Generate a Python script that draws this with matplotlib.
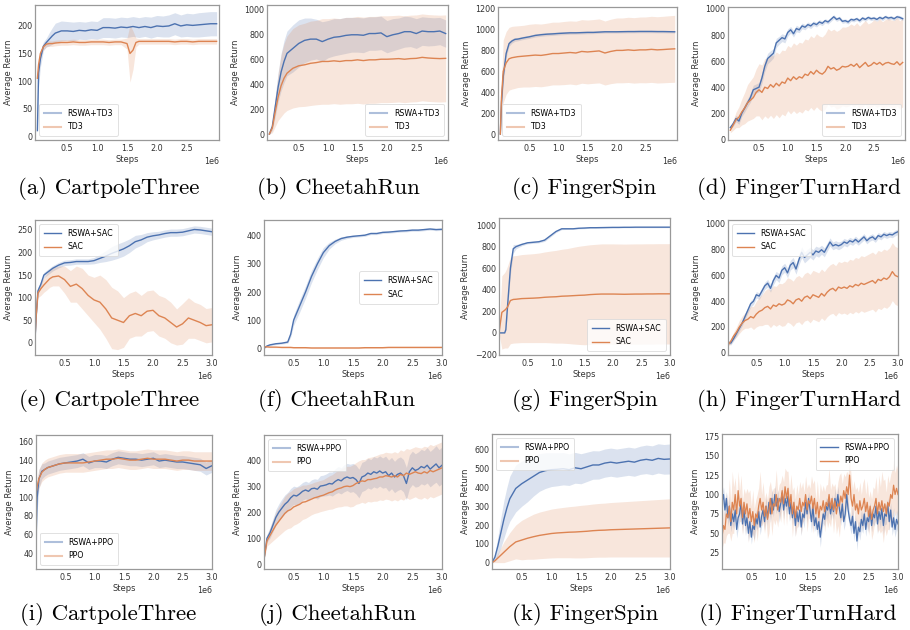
import matplotlib
matplotlib.use("Agg")
import matplotlib.pyplot as plt
import numpy as np

BLUE = "#4c72b0"
ORANGE = "#dd8452"

# steps are in millions, scaled to 1e6 when plotted
STEPS = [0, 0.02, 0.05, 0.1, 0.15, 0.2, 0.25, 0.3, 0.4, 0.5, 0.6, 0.7, 0.8, 0.9,
         1.0, 1.1, 1.2, 1.3, 1.4, 1.5, 1.6, 1.7, 1.8, 1.9, 2.0, 2.1, 2.2, 2.3,
         2.4, 2.5, 2.6, 2.7, 2.8, 2.9, 3.0]
STEPS_FINE = [round(0.05 * i, 2) for i in range(61)]
STEPS_DENSE = [round(0.025 * i, 3) for i in range(121)]

# (a) CartpoleThree, TD3
a_x = [0, 0.02, 0.05, 0.1, 0.15, 0.2, 0.25, 0.3, 0.4, 0.5, 0.6, 0.7, 0.8, 0.9,
       1.0, 1.1, 1.2, 1.3, 1.4, 1.5, 1.55, 1.6, 1.65, 1.7, 1.8, 1.9, 2.0, 2.1,
       2.2, 2.3, 2.4, 2.5, 2.6, 2.7, 2.8, 2.9, 3.0]
a_rswa = [10, 115, 140, 163, 170, 176, 182, 187, 191, 191, 190, 192, 191, 193,
          192, 197, 197, 196, 198, 197, 198, 199, 198, 197, 199, 197, 200, 199,
          200, 204, 200, 202, 201, 202, 203, 204, 204]
a_rswa_sd = [5, 25, 15, 8, 8, 12, 15, 18, 18, 17, 17, 16, 16, 16, 16, 18, 18, 18,
             18, 18, 18, 18, 18, 18, 18, 19, 19, 19, 20, 20, 20, 21, 21, 22, 22, 22, 22]
a_base = [105, 130, 150, 162, 167, 168, 168, 169, 170, 170, 171, 170, 170, 171,
          171, 171, 170, 171, 171, 168, 150, 156, 170, 172, 172, 172, 172, 172,
          172, 171, 172, 172, 171, 172, 172, 172, 172]
a_base_sd = [5, 8, 6, 5, 5, 5, 5, 5, 5, 5, 5, 5, 5, 5, 5, 5, 5, 5, 5, 10, 52, 35,
             8, 5, 5, 5, 5, 5, 5, 5, 5, 5, 5, 5, 5, 5, 5]

# (b) CheetahRun, TD3
b_rswa = [0, 25, 60, 220, 380, 500, 585, 650, 690, 730, 755, 765, 765, 745, 765,
          780, 785, 795, 800, 800, 796, 810, 810, 815, 785, 800, 810, 825, 825,
          810, 830, 825, 825, 830, 810]
b_rswa_sd = [5, 15, 30, 80, 120, 150, 170, 180, 190, 190, 180, 170, 160, 160, 150,
             150, 145, 145, 140, 140, 140, 135, 135, 135, 130, 130, 125, 125, 120,
             120, 115, 115, 112, 110, 110]
b_base = [0, 20, 50, 180, 300, 390, 450, 490, 530, 550, 558, 570, 576, 585, 585,
          590, 585, 592, 592, 598, 592, 598, 598, 603, 603, 605, 608, 603, 608,
          610, 618, 613, 610, 608, 610]
b_base_sd = [5, 15, 40, 120, 190, 250, 280, 300, 320, 330, 335, 340, 340, 345, 345,
             345, 345, 348, 348, 350, 350, 350, 350, 350, 350, 350, 350, 350, 350,
             350, 350, 350, 350, 350, 350]

# (c) FingerSpin, TD3
c_rswa = [0, 300, 550, 770, 865, 890, 905, 908, 920, 930, 943, 950, 955, 958, 962,
          965, 968, 968, 970, 972, 972, 975, 978, 978, 978, 979, 980, 980, 981,
          981, 981, 980, 980, 979, 978]
c_rswa_sd = [5, 60, 60, 40, 25, 20, 18, 16, 15, 15, 15, 15, 15, 15, 14, 14, 14, 13,
             13, 13, 12, 12, 12, 12, 12, 12, 12, 12, 12, 12, 12, 12, 12, 12, 12]
c_base = [0, 350, 600, 680, 720, 730, 735, 740, 745, 750, 755, 752, 760, 770, 770,
          775, 780, 775, 790, 785, 790, 795, 775, 790, 800, 800, 805, 800, 805,
          805, 810, 805, 808, 812, 815]
c_base_sd = [5, 150, 300, 300, 300, 300, 298, 295, 295, 300, 300, 300, 300, 300,
             300, 302, 302, 304, 304, 305, 305, 306, 306, 308, 310, 310, 312, 313,
             314, 315, 316, 317, 318, 319, 320]

# (d) FingerTurnHard, TD3
d_rswa = [90, 120, 160, 140, 200, 240, 280, 320, 380, 390, 400, 470, 560, 620, 640,
          660, 740, 760, 780, 770, 820, 840, 810, 850, 840, 870, 860, 880, 870, 890,
          880, 900, 890, 910, 900, 920, 940, 920, 930, 905, 910, 900, 920, 915, 925,
          910, 930, 920, 935, 925, 930, 920, 935, 925, 940, 930, 935, 925, 940, 935,
          925]
d_rswa_sd = [10, 20, 25, 25, 25, 30, 30, 35, 35, 35, 35, 40, 40, 40, 40, 35, 35, 30,
             30, 30, 28, 25, 25, 25, 22, 22, 20, 20, 20, 18, 18, 18, 18, 16, 16, 16,
             16, 15, 15, 15, 15, 15, 15, 14, 14, 14, 14, 14, 14, 14, 14, 14, 14, 14,
             14, 14, 14, 14, 14, 14, 14]
d_base = [70, 110, 150, 170, 210, 240, 280, 300, 320, 360, 380, 360, 400, 390, 420,
          400, 430, 410, 440, 430, 470, 450, 480, 460, 480, 470, 500, 490, 520, 500,
          530, 510, 500, 520, 560, 540, 550, 530, 540, 560, 555, 560, 575, 560, 580,
          550, 570, 590, 560, 570, 590, 575, 590, 570, 585, 590, 580, 575, 595, 570,
          590]
d_base_sd = [20, 40, 60, 80, 100, 120, 140, 150, 160, 180, 200, 210, 220, 230, 235,
             240, 240, 245, 245, 250, 250, 255, 260, 262, 265, 268, 270, 272, 275,
             278, 280, 282, 285, 288, 290, 292, 295, 298, 300, 302, 305, 308, 310,
             312, 315, 318, 320, 322, 325, 326, 328, 330, 332, 333, 334, 335, 336,
             337, 338, 339, 340]

# (e) CartpoleThree, SAC
e_rswa = [5, 60, 115, 130, 150, 155, 160, 165, 172, 177, 178, 180, 180, 180, 182,
          187, 192, 198, 203, 208, 215, 224, 228, 234, 237, 239, 242, 244, 244,
          245, 248, 251, 250, 248, 246]
e_rswa_sd = [3, 8, 8, 6, 6, 6, 6, 6, 6, 6, 6, 6, 6, 6, 7, 9, 12, 15, 16, 16, 15, 14,
             12, 10, 9, 8, 8, 8, 8, 8, 8, 8, 8, 8, 8]
e_base = [10, 60, 110, 120, 128, 135, 142, 146, 148, 140, 125, 130, 120, 105, 95,
          90, 75, 55, 50, 45, 60, 65, 60, 70, 72, 60, 55, 45, 35, 42, 55, 50, 45,
          38, 40]
e_base_sd = [5, 8, 10, 15, 16, 18, 19, 20, 22, 30, 35, 40, 45, 45, 50, 60, 65, 68,
             65, 55, 50, 50, 45, 45, 45, 45, 45, 45, 40, 45, 45, 40, 40, 38, 38]

# (f) CheetahRun, SAC
f_x = [0, 0.05, 0.1, 0.2, 0.3, 0.4, 0.45, 0.5, 0.6, 0.7, 0.8, 0.9, 1.0, 1.1, 1.2,
       1.3, 1.4, 1.5, 1.6, 1.7, 1.8, 1.9, 2.0, 2.1, 2.2, 2.3, 2.4, 2.5, 2.6, 2.7,
       2.8, 2.9, 3.0]
f_rswa = [0, 8, 12, 16, 18, 22, 50, 100, 150, 200, 255, 300, 340, 365, 380, 390,
          395, 398, 400, 402, 408, 408, 412, 413, 415, 417, 418, 420, 420, 422,
          424, 422, 423]
f_rswa_sd = [1, 2, 3, 3, 3, 4, 10, 18, 22, 22, 22, 20, 18, 12, 8, 6, 5, 4, 4, 4, 4,
             4, 4, 4, 4, 4, 4, 4, 4, 4, 4, 4, 4]
f_base = [5, 5, 4, 4, 3, 3, 3, 2, 2, 2, 1, 1, 1, 1, 1, 1, 1, 1, 1, 2, 2, 2, 2, 3,
          3, 3, 3, 3, 3, 3, 3, 3, 3]
f_base_sd = [2, 2, 2, 2, 2, 2, 2, 2, 2, 2, 2, 2, 2, 2, 2, 2, 2, 2, 2, 2, 2, 2, 2, 2,
             2, 2, 2, 2, 2, 2, 2, 2, 2]

# (g) FingerSpin, SAC
g_x = [0, 0.05, 0.1, 0.12, 0.15, 0.2, 0.25, 0.3, 0.4, 0.5, 0.6, 0.7, 0.8, 0.9,
       1.0, 1.1, 1.2, 1.3, 1.4, 1.5, 1.6, 1.7, 1.8, 1.9, 2.0, 2.1, 2.2, 2.3, 2.4,
       2.5, 2.6, 2.7, 2.8, 2.9, 3.0]
g_rswa = [0, 0, 0, 30, 250, 600, 780, 800, 820, 835, 840, 845, 860, 900, 940, 965,
          965, 965, 970, 972, 975, 975, 976, 977, 978, 978, 979, 979, 980, 980,
          980, 980, 980, 980, 980]
g_rswa_sd = [2, 2, 2, 10, 40, 60, 40, 20, 12, 10, 10, 10, 12, 12, 10, 8, 6, 6, 6, 6,
             5, 5, 5, 5, 5, 5, 5, 5, 5, 5, 5, 5, 5, 5, 5]
g_base = [0, 190, 210, 220, 240, 300, 310, 312, 318, 320, 322, 325, 330, 333, 335,
          340, 342, 345, 348, 350, 355, 358, 360, 360, 360, 359, 358, 359, 360,
          360, 361, 361, 362, 362, 362]
g_base_sd = [5, 340, 350, 360, 380, 400, 405, 405, 408, 410, 412, 415, 420, 425,
             430, 435, 440, 448, 455, 460, 462, 463, 465, 465, 465, 465, 465, 465,
             465, 465, 465, 465, 465, 465, 465]

# (h) FingerTurnHard, SAC
h_rswa = [80, 75, 110, 150, 190, 230, 280, 330, 380, 400, 450, 440, 480, 520, 540,
          500, 560, 600, 580, 640, 660, 620, 680, 700, 650, 720, 780, 740, 760, 780,
          760, 790, 780, 800, 780, 820, 860, 830, 840, 830, 840, 860, 850, 870, 860,
          880, 860, 880, 900, 870, 890, 900, 880, 910, 900, 920, 910, 920, 915, 930,
          940]
h_rswa_sd = [15, 15, 18, 20, 20, 22, 22, 25, 25, 25, 25, 25, 28, 28, 30, 30, 32, 32,
             35, 35, 35, 38, 38, 40, 40, 40, 42, 42, 42, 40, 40, 38, 38, 35, 35, 32,
             32, 30, 30, 30, 28, 28, 28, 26, 26, 26, 25, 25, 25, 24, 24, 24, 23, 23,
             23, 22, 22, 22, 22, 22, 22]
h_base = [60, 90, 130, 160, 200, 230, 250, 260, 280, 270, 300, 320, 330, 350, 360,
          340, 370, 360, 380, 370, 380, 410, 400, 380, 410, 420, 400, 430, 440, 420,
          450, 440, 430, 460, 440, 470, 490, 500, 480, 510, 500, 510, 500, 520, 510,
          530, 520, 540, 530, 540, 550, 560, 540, 570, 560, 580, 570, 590, 630, 600,
          590]
h_base_sd = [10, 20, 30, 40, 50, 55, 60, 70, 80, 90, 100, 110, 120, 130, 140, 145,
             150, 155, 160, 165, 170, 172, 174, 176, 178, 180, 182, 184, 186, 188,
             190, 190, 190, 190, 190, 190, 192, 194, 196, 198, 200, 202, 204, 206,
             208, 210, 212, 214, 216, 218, 220, 222, 224, 225, 225, 225, 225, 225,
             225, 225, 225]

# (i) CartpoleThree, PPO
i_rswa = [54, 100, 120, 128, 130, 132, 133, 134, 136, 137, 138, 139, 141, 137, 139,
          139, 138, 141, 143, 142, 141, 141, 140, 141, 142, 139, 140, 139, 138, 138,
          137, 136, 135, 131, 134]
i_rswa_sd = [20, 15, 10, 8, 7, 7, 7, 7, 7, 7, 7, 7, 7, 7, 7, 7, 7, 7, 7, 7, 7, 7, 7,
             7, 7, 7, 7, 7, 7, 7, 7, 7, 7, 7, 7]
i_base = [104, 112, 120, 127, 130, 132, 133, 134, 136, 137, 137, 137, 137, 138, 139,
          140, 141, 141, 142, 141, 140, 140, 141, 142, 141, 141, 141, 140, 139, 140,
          140, 139, 139, 139, 139]
i_base_sd = [8, 10, 10, 10, 10, 10, 10, 10, 10, 10, 10, 10, 10, 10, 10, 10, 10, 10,
             10, 10, 10, 10, 10, 10, 10, 10, 10, 10, 10, 10, 10, 10, 10, 10, 10]

# (j) CheetahRun, PPO
j_rswa = [20, 100, 120, 150, 180, 200, 215, 230, 240, 255, 265, 262, 270, 280, 285,
          280, 290, 292, 288, 300, 302, 305, 310, 308, 318, 325, 320, 330, 335, 330,
          333, 325, 310, 335, 340, 350, 345, 355, 350, 358, 350, 355, 340, 350, 335,
          345, 350, 340, 310, 355, 370, 360, 365, 375, 370, 380, 365, 375, 385, 370,
          380]
j_rswa_sd = [5, 15, 20, 25, 30, 32, 35, 36, 36, 36, 35, 35, 34, 34, 34, 34, 34, 36,
             38, 40, 40, 42, 44, 46, 48, 50, 50, 52, 52, 54, 54, 55, 55, 56, 56, 57,
             57, 58, 58, 58, 58, 60, 60, 60, 60, 62, 62, 62, 62, 64, 64, 64, 66, 66,
             66, 68, 68, 68, 70, 70, 70]
j_base = [20, 90, 110, 130, 150, 165, 180, 195, 205, 210, 220, 225, 230, 238, 240,
          245, 250, 255, 258, 262, 265, 270, 275, 278, 285, 290, 293, 298, 300, 298,
          302, 310, 315, 320, 318, 325, 325, 328, 330, 335, 335, 340, 338, 335, 340,
          335, 345, 340, 350, 345, 350, 355, 350, 348, 355, 350, 360, 355, 360, 365,
          370]
j_base_sd = [5, 20, 30, 40, 50, 55, 60, 65, 68, 70, 70, 70, 68, 66, 64, 62, 60, 60,
             60, 60, 60, 62, 64, 66, 68, 70, 72, 74, 76, 78, 80, 80, 82, 82, 84, 84,
             86, 86, 88, 88, 90, 90, 90, 92, 92, 92, 94, 94, 94, 96, 96, 96, 98, 98,
             98, 100, 100, 100, 100, 100, 100]

# (k) FingerSpin, PPO
k_rswa = [0, 12, 30, 90, 160, 230, 290, 340, 395, 420, 440, 460, 480, 490, 495, 497,
          500, 495, 505, 500, 510, 520, 520, 530, 535, 530, 535, 540, 535, 545, 550,
          545, 555, 550, 552]
k_rswa_sd = [3, 10, 20, 50, 80, 100, 110, 120, 125, 120, 115, 105, 100, 95, 90, 88,
             86, 84, 82, 80, 78, 76, 75, 75, 75, 75, 75, 75, 75, 75, 76, 77, 78, 79, 80]
k_base = [0, 4, 10, 25, 40, 55, 70, 85, 110, 120, 130, 138, 145, 150, 155, 158, 160,
          162, 163, 165, 167, 170, 172, 173, 175, 176, 177, 178, 179, 180, 181, 182,
          183, 184, 185]
k_base_sd = [1, 4, 10, 25, 40, 55, 65, 75, 90, 105, 112, 120, 124, 127, 130, 132,
             134, 136, 138, 140, 141, 142, 143, 144, 145, 146, 147, 148, 149, 150,
             151, 152, 153, 154, 155]

# (l) FingerTurnHard, PPO (noisy, read at 0.025e6 spacing)
l_rswa = [90, 100, 80, 95, 70, 85, 60, 75, 65, 80, 55, 70, 75, 90, 62, 80,
          60, 70, 50, 65, 45, 60, 55, 70, 62, 78, 58, 72, 80, 65, 85, 70,
          90, 75, 95, 80, 100, 85, 95, 78, 88, 102, 80, 95, 85, 98, 75, 90,
          70, 85, 60, 78, 65, 80, 58, 75, 70, 90, 75, 95, 80, 65, 85, 60,
          70, 55, 65, 45, 60, 75, 68, 85, 80, 92, 75, 88, 78, 95, 85, 100,
          82, 70, 88, 65, 75, 100, 80, 68, 60, 72, 50, 65, 40, 58, 52, 68,
          60, 75, 55, 70, 65, 80, 60, 75, 70, 85, 62, 78, 68, 82, 60, 75,
          72, 88, 65, 80, 58, 70, 55, 68, 62]
l_rswa_sd = [12, 10, 14, 9, 11, 13, 8, 12, 10, 9, 11, 14, 10, 8, 12, 9, 13, 11, 10, 12,
             9, 11, 14, 10, 8, 12, 10, 13, 9, 11, 12, 10, 8, 11, 13, 9, 12, 10, 11, 14,
             10, 9, 12, 8, 11, 13, 10, 12, 9, 11, 14, 10, 8, 12, 11, 9, 13, 10, 12, 9,
             11, 14, 10, 8, 12, 9, 11, 13, 10, 12, 9, 11, 14, 10, 8, 12, 10, 13, 9, 11,
             12, 10, 8, 11, 13, 9, 12, 10, 11, 14, 10, 9, 12, 8, 11, 13, 10, 12, 9, 11,
             14, 10, 8, 12, 11, 9, 13, 10, 12, 9, 11, 14, 10, 8, 12, 9, 11, 13, 10, 12,
             12]
l_base = [45, 60, 55, 75, 70, 85, 65, 90, 80, 100, 75, 105, 85, 95, 70, 90,
          75, 88, 70, 82, 65, 78, 60, 75, 70, 85, 95, 80, 90, 72, 85, 68,
          80, 95, 75, 88, 85, 100, 80, 95, 90, 105, 88, 110, 95, 108, 85, 100,
          75, 90, 70, 85, 80, 95, 78, 90, 85, 100, 80, 92, 88, 98, 82, 95,
          75, 90, 70, 85, 80, 92, 78, 90, 85, 100, 82, 95, 80, 92, 75, 88,
          85, 98, 90, 105, 95, 110, 100, 125, 95, 85, 100, 80, 88, 75, 92, 80,
          85, 95, 78, 90, 72, 85, 68, 80, 85, 95, 75, 90, 80, 92, 78, 88,
          75, 90, 85, 100, 95, 112, 100, 108, 100]
l_base_sd = [15, 22, 18, 28, 20, 35, 25, 40, 30, 22, 18, 25, 20, 30, 22, 18, 26, 20, 32, 24,
             20, 28, 22, 18, 30, 24, 35, 20, 26, 22, 18, 25, 30, 22, 28, 20, 24, 32, 22, 18,
             26, 20, 28, 24, 35, 22, 18, 26, 30, 20, 24, 28, 20, 22, 30, 26, 18, 24, 28, 22,
             20, 26, 32, 24, 18, 28, 22, 30, 24, 20, 26, 22, 28, 35, 24, 20, 30, 22, 26, 28,
             40, 30, 24, 22, 28, 20, 26, 24, 30, 22, 18, 26, 22, 28, 24, 20, 30, 26, 22, 28,
             24, 20, 26, 30, 22, 28, 24, 35, 30, 38, 40, 32, 28, 35, 30, 26, 38, 32, 28, 30,
             30]

CAPTIONS = ["(a) CartpoleThree", "(b) CheetahRun", "(c) FingerSpin", "(d) FingerTurnHard",
            "(e) CartpoleThree", "(f) CheetahRun", "(g) FingerSpin", "(h) FingerTurnHard",
            "(i) CartpoleThree", "(j) CheetahRun", "(k) FingerSpin", "(l) FingerTurnHard"]
BASELINES = ["TD3", "SAC", "PPO"]

W, H = 910, 630


def px_rect(left, right, top, bottom):
    return [left / W, 1 - bottom / H, (right - left) / W, (bottom - top) / H]


def draw_panel(fig, rect, steps, rswa, rswa_sd, base, base_sd, baseline,
               ylim, row, legend_loc, faded, lw=1.0):
    ax = fig.add_axes(rect)
    x = np.array(steps) * 1e6
    for mean, sd, color, name in ((rswa, rswa_sd, BLUE, "RSWA+" + baseline),
                                  (base, base_sd, ORANGE, baseline)):
        mean = np.array(mean, dtype=float)
        sd = np.array(sd, dtype=float)
        ax.fill_between(x, mean - sd, mean + sd, color=color, alpha=0.2, lw=0)
        ax.plot(x, mean, color=color, lw=lw, label=name)

    if row == 0:
        ax.set_xlim(-0.04e6, 3.04e6)
        ax.set_xticks([0.5e6, 1.0e6, 1.5e6, 2.0e6, 2.5e6])
    else:
        ax.set_xlim(0, 3.0e6)
        ax.set_xticks([0.5e6, 1.0e6, 1.5e6, 2.0e6, 2.5e6, 3.0e6])
    ax.set_ylim(*ylim)

    ax.set_xlabel("Steps", fontsize=6, labelpad=1, color="0.2")
    ax.set_ylabel("Average Return", fontsize=6, labelpad=3, color="0.2")
    ax.tick_params(axis="both", length=0, labelsize=5.8, labelcolor="0.2")
    ax.tick_params(axis="x", pad=3)
    ax.tick_params(axis="y", pad=1.8)
    ax.xaxis.get_offset_text().set_fontsize(5.8)
    ax.xaxis.get_offset_text().set_color("0.2")
    for spine in ax.spines.values():
        spine.set_color("0.6")
        spine.set_linewidth(0.9)

    leg = ax.legend(loc=legend_loc, fontsize=5.7, frameon=True, handlelength=2.2,
                    borderpad=0.6, labelspacing=0.6)
    leg.get_frame().set_edgecolor("0.85")
    leg.get_frame().set_linewidth(0.7)
    for line in leg.get_lines():
        line.set_linewidth(1.0)
        if faded:
            line.set_alpha(0.45)
            line.set_linewidth(1.5)
    return ax


fig = plt.figure(figsize=(W / 100, H / 100), dpi=100)

panels = [
    (px_rect(35, 219, 5, 140), a_x, a_rswa, a_rswa_sd, a_base, a_base_sd, 0, (-7, 238), "lower left", True),
    (px_rect(267, 448, 5, 140), STEPS, b_rswa, b_rswa_sd, b_base, b_base_sd, 0, (-48, 1040), "lower right", True),
    (px_rect(498, 677, 7, 140), STEPS, c_rswa, c_rswa_sd, c_base, c_base_sd, 0, (-57, 1215), "lower left", True),
    (px_rect(728, 905, 7, 140), STEPS_FINE, d_rswa, d_rswa_sd, d_base, d_base_sd, 0, (-5, 1015), "lower right", True),
    (px_rect(35, 212, 220, 355), STEPS, e_rswa, e_rswa_sd, e_base, e_base_sd, 1, (-27, 272), "upper left", False),
    (px_rect(264, 442, 220, 355), f_x, f_rswa, f_rswa_sd, f_base, f_base_sd, 1, (-24, 456), "center right", False),
    (px_rect(499, 670, 218, 355), g_x, g_rswa, g_rswa_sd, g_base, g_base_sd, 1, (-205, 1065), "lower right", False),
    (px_rect(728, 898, 220, 355), STEPS_FINE, h_rswa, h_rswa_sd, h_base, h_base_sd, 1, (-18, 1031), "upper left", False),
    (px_rect(36, 212, 435, 569), STEPS, i_rswa, i_rswa_sd, i_base, i_base_sd, 2, (23, 167), "lower left", True),
    (px_rect(264, 442, 435, 569), STEPS_FINE, j_rswa, j_rswa_sd, j_base, j_base_sd, 2, (-18, 496), "upper left", True),
    (px_rect(492, 670, 434, 569), STEPS, k_rswa, k_rswa_sd, k_base, k_base_sd, 2, (-34, 685), "upper left", True),
    (px_rect(722, 898, 434, 569), STEPS_DENSE, l_rswa, l_rswa_sd, l_base, l_base_sd, 2, (4, 178), "upper right", False),
]

caption_x = [109, 338, 584, 799, 109, 337, 585, 799, 108, 338, 585, 798]
caption_y = [188, 401, 615]

for idx, (rect, steps, rswa, rswa_sd, base, base_sd, row, ylim, loc, faded) in enumerate(panels):
    lw = 0.9 if idx == 11 else 1.0
    draw_panel(fig, rect, steps, rswa, rswa_sd, base, base_sd, BASELINES[row],
               ylim, row, loc, faded, lw=lw)
    fig.text(caption_x[idx] / W, 1 - caption_y[row] / H, CAPTIONS[idx],
             ha="center", va="center", fontsize=16.5, family="cmr10")

fig.savefig("out.png", dpi=100)
